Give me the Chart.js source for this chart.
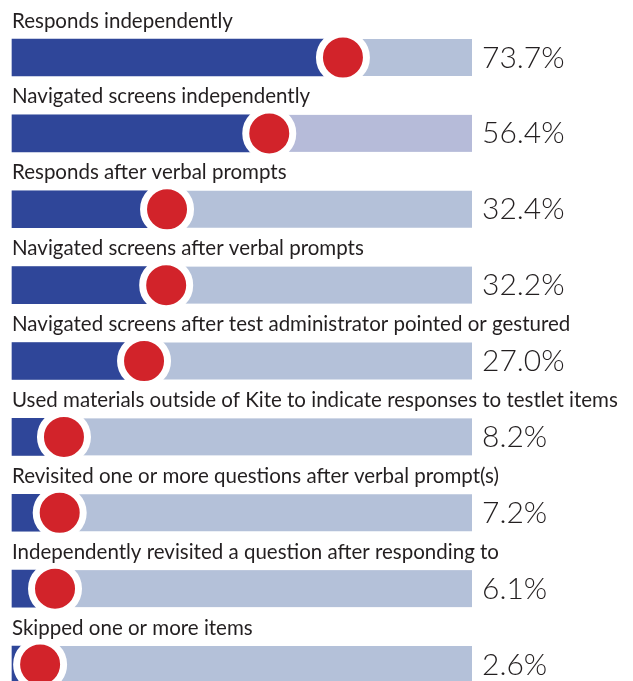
<!DOCTYPE html>
<html>
<head>
<meta charset="utf-8">
<script src="https://cdn.jsdelivr.net/npm/chart.js@4.4.1/dist/chart.umd.min.js"></script>
<style>
    html, body { margin: 0; padding: 0; background: #ffffff; }
    #wrap { width: 633px; height: 681px; position: relative; }
</style>
</head>
<body>
<div id="wrap"><canvas id="kiteChart"></canvas></div>
<script>
// Dados do gráfico
const categories = [
    'Responds independently',
    'Navigated screens independently',
    'Responds after verbal prompts',
    'Navigated screens after verbal prompts',
    'Navigated screens after test administrator pointed or gestured',
    'Used materials outside of Kite to indicate responses to testlet items',
    'Revisited one or more questions after verbal prompt(s)',
    'Independently revisited a question after responding to',
    'Skipped one or more items'
];
const percentValues = [73.7, 56.4, 32.4, 32.2, 27.0, 8.2, 7.2, 6.1, 2.6];

// Escala horizontal (a trilha ocupa toda a área do gráfico)
const X_MIN = -4;
const X_MAX = 104;

const DARK_BLUE = '#2f4699';
const TRACK = '#b4c1d9';
const RED = '#d2232a';
const BAR_H = 37;

// Desenha a trilha cinza-azulada atrás de cada barra
const trackPlugin = {
    id: 'track',
    beforeDatasetsDraw(chart) {
        const { ctx, chartArea, scales } = chart;
        ctx.save();
        categories.forEach((c, i) => {
            const y = scales.y.getPixelForValue(i);
            ctx.fillStyle = i === 1 ? '#b6bbd9' : TRACK;
            ctx.fillRect(chartArea.left, y - BAR_H / 2, chartArea.right - chartArea.left, BAR_H);
        });
        ctx.restore();
    }
};

// Rótulos acima das barras e percentuais à direita
const labelPlugin = {
    id: 'labels',
    afterDatasetsDraw(chart) {
        const { ctx, chartArea, scales } = chart;
        ctx.save();
        ctx.textAlign = 'left';
        ctx.textBaseline = 'alphabetic';
        categories.forEach((c, i) => {
            const y = scales.y.getPixelForValue(i);
            ctx.fillStyle = '#231f20';
            ctx.font = '400 20.5px Lato';
            ctx.fillText(c, chartArea.left, y - 30);
            ctx.font = '300 30px Lato';
            ctx.fillText(percentValues[i].toFixed(1) + '%', chartArea.right + 10, y + 10);
        });
        ctx.restore();
    }
};

const ctx = document.getElementById('kiteChart').getContext('2d');
new Chart(ctx, {
    type: 'bar',
    data: {
        labels: categories,
        datasets: [
            {
                type: 'line',
                data: percentValues,
                indexAxis: 'y',
                showLine: false,
                pointRadius: 23.5,
                pointHoverRadius: 23.5,
                pointBackgroundColor: RED,
                pointBorderColor: '#ffffff',
                pointBorderWidth: 7,
                pointHoverBorderWidth: 7,
                clip: false,
                order: 0
            },
            {
                data: percentValues,
                backgroundColor: DARK_BLUE,
                barThickness: BAR_H,
                base: X_MIN,
                borderWidth: 0,
                clip: false,
                order: 1
            }
        ]
    },
    options: {
        indexAxis: 'y',
        responsive: true,
        maintainAspectRatio: false,
        animation: false,
        layout: {
            autoPadding: false,
            padding: { left: 12, right: 161, top: 57.5, bottom: 16.5 }
        },
        plugins: {
            legend: { display: false },
            tooltip: { enabled: false }
        },
        scales: {
            x: {
                min: X_MIN,
                max: X_MAX,
                display: false
            },
            y: {
                type: 'category',
                offset: false,
                display: false
            }
        }
    },
    plugins: [trackPlugin, labelPlugin]
});
</script>
</body>
</html>
